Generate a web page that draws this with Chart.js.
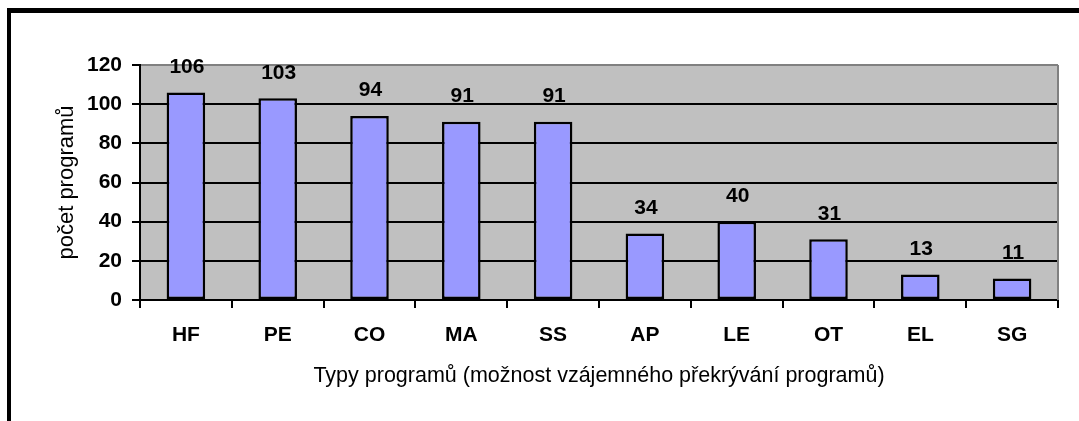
<!DOCTYPE html>
<html>
<head>
<meta charset="utf-8">
<script src="https://cdn.jsdelivr.net/npm/chart.js@4.4.1/dist/chart.umd.min.js"></script>
<style>
  html, body { margin: 0; padding: 0; background: #fff; overflow: hidden; }
  #wrap { position: relative; width: 1079px; height: 421px; }
  #frame { position: absolute; left: 7px; top: 8px; width: 1200px; height: 600px;
           border-left: 4px solid #000; border-top: 5px solid #000; box-sizing: border-box; }
  canvas { position: absolute; left: 0; top: 0; display: block; }
</style>
</head>
<body>
<div id="wrap">
  <div id="frame"></div>
  <canvas id="c" width="1079" height="421"></canvas>
</div>
<script>
const categories = ['HF', 'PE', 'CO', 'MA', 'SS', 'AP', 'LE', 'OT', 'EL', 'SG'];
const programCounts = [106, 103, 94, 91, 91, 34, 40, 31, 13, 11];
const yTitle = 'počet programů';
const xTitle = 'Typy programů (možnost vzájemného překrývání programů)';

const FONT = '"Liberation Sans", Arial, Helvetica, sans-serif';

const plotBg = {
  id: 'plotBg',
  beforeDraw(chart) {
    const { ctx, chartArea: a } = chart;
    ctx.save();
    ctx.fillStyle = '#C0C0C0';
    ctx.fillRect(a.left, a.top, a.right - a.left, a.bottom - a.top);
    ctx.restore();
  },
  afterDatasetsDraw(chart) {
    const { ctx, chartArea: a } = chart;
    ctx.save();
    ctx.strokeStyle = '#808080';
    ctx.lineWidth = 2;
    ctx.beginPath();
    ctx.moveTo(a.right, a.top);
    ctx.lineTo(a.right, a.bottom);
    ctx.stroke();
    // data labels
    const meta = chart.getDatasetMeta(0);
    ctx.fillStyle = '#000';
    ctx.font = 'bold 21px ' + FONT;
    ctx.textAlign = 'center';
    ctx.textBaseline = 'alphabetic';
    meta.data.forEach((bar, i) => {
      ctx.fillText(String(chart.data.datasets[0].data[i]), bar.x + 1, bar.y - 19.5);
    });
    ctx.restore();
  }
};

new Chart(document.getElementById('c'), {
  type: 'bar',
  data: {
    labels: categories,
    datasets: [{
      data: programCounts,
      backgroundColor: '#9999FF',
      borderColor: '#000000',
      borderWidth: 2.5,
      borderSkipped: false,
      barPercentage: 0.42,
      categoryPercentage: 1.0
    }]
  },
  options: {
    responsive: false,
    animation: false,
    devicePixelRatio: 1,
    layout: { padding: { top: 65, right: 21, bottom: 0, left: 0 } },
    plugins: { legend: { display: false }, tooltip: { enabled: false } },
    scales: {
      x: {
        grid: { display: true, offset: true, drawOnChartArea: false, drawTicks: true,
                tickLength: 8, color: '#000', lineWidth: 2 },
        border: { display: true, color: '#000', width: 2 },
        ticks: { color: '#000', font: { family: FONT, size: 21, weight: 'bold' }, padding: 15,
                 maxRotation: 0, autoSkip: false },
        title: { display: true, text: xTitle, color: '#000',
                 font: { family: FONT, size: 21.5, weight: 'normal' }, padding: { top: 0, bottom: 32 } },
        afterFit(scale) { scale.height = 121; }
      },
      y: {
        min: 0, max: 120,
        grid: { display: true, drawTicks: true, tickLength: 8, lineWidth: 2,
                color: (ctx) => (ctx.tick && ctx.tick.value === 120) ? '#808080' : '#000',
                tickColor: '#000' },
        border: { display: true, color: '#000', width: 2 },
        ticks: { stepSize: 20, color: '#000', font: { family: FONT, size: 21, weight: 'bold' }, padding: 10 },
        title: { display: true, text: yTitle, color: '#000',
                 font: { family: FONT, size: 22, weight: 'normal' }, padding: { top: 54, bottom: 0 } },
        afterFit(scale) { scale.width = 140; }
      }
    }
  },
  plugins: [plotBg]
});
</script>
</body>
</html>
